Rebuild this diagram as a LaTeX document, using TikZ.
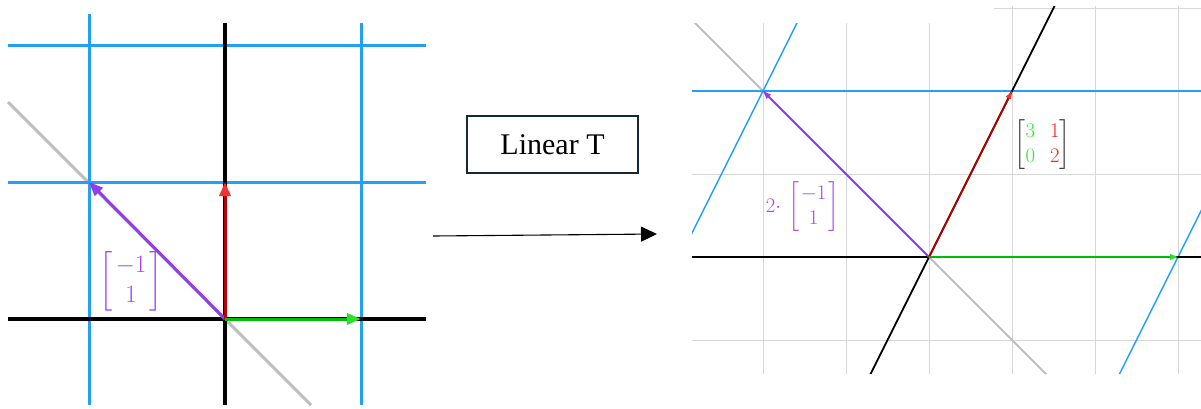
\documentclass[tikz,border=0pt]{standalone}
\usepackage{amsmath}
\usepackage{fontspec}
\newfontfamily\timesfont{Liberation Serif}
\usetikzlibrary{arrows.meta}
\definecolor{gblue}{RGB}{35,160,245}
\definecolor{ggray}{RGB}{190,190,190}
\definecolor{lgrid}{RGB}{215,215,215}
\definecolor{vpurple}{RGB}{145,60,238}
\definecolor{lpurple}{RGB}{160,70,255}
\definecolor{redshaft}{RGB}{185,0,0}
\definecolor{redtip}{RGB}{240,50,50}
\definecolor{greenshaft}{RGB}{0,190,0}
\definecolor{greentip}{RGB}{40,225,40}
\definecolor{boxnavy}{RGB}{20,40,55}
\definecolor{mgreen}{RGB}{40,235,40}
\definecolor{mred}{RGB}{250,30,30}
\definecolor{mgray}{RGB}{50,50,50}
\tikzset{
  bluel/.style={draw=gblue, line width=3pt},
  axisl/.style={draw=black, line width=3.4pt},
  diagl/.style={draw=ggray, line width=3pt},
  bigvec/.style={line width=3pt},
  rblue/.style={draw=gblue, line width=1.4pt},
  raxis/.style={draw=black, line width=1.8pt},
  rgrid/.style={draw=lgrid, line width=1pt},
  rdiag/.style={draw=ggray, line width=1.8pt},
  smallvec/.style={line width=1.8pt},
  tbox/.style={draw=boxnavy, line width=2pt, minimum width=171pt, minimum height=57pt, inner sep=0pt, font=\timesfont\fontsize{30}{36}\selectfont},
}
\begin{document}
\begin{tikzpicture}[x=1pt,y=-1pt]
\useasboundingbox (0,0) rectangle (1201,408);
% ---------- left panel ----------
\coordinate (O1) at (225,319);
\coordinate (P1) at (89,182);
\coordinate (R1) at (225,182);
\coordinate (G1) at (361,319);
\draw[diagl] (8,102) -- (311,405);
\draw[bluel] (8,45) -- (426,45);
\draw[bluel] (8,182) -- (426,182);
\draw[bluel] (89,14) -- (89,405);
\draw[bluel] (361,23) -- (361,405);
\draw[axisl] (8,319) -- (426,319);
\draw[axisl] (225,23) -- (225,405);
\draw[bigvec, draw=vpurple, -{Triangle[length=14pt,width=11pt,color=vpurple]}] (O1) -- (P1);
\draw[bigvec, draw=redshaft, -{Triangle[length=14pt,width=11pt,color=redtip]}] (O1) -- (R1);
\draw[bigvec, draw=greenshaft, -{Triangle[length=14pt,width=11pt,color=greentip]}] (O1) -- (G1);
\node[text=lpurple, font=\fontsize{24.88}{30}\selectfont, inner sep=0pt] (lab1) at (131,281) {$\begin{bmatrix}\mkern2mu-1\mkern2mu\\ \mkern2mu1\mkern2mu\end{bmatrix}$};
% ---------- middle ----------
\node[tbox] (T) at (552.5,144.5) {Linear T};
\coordinate (a0) at (433,236);
\coordinate (a1) at (657,234);
\draw[line width=1.1pt, -{Triangle[length=16pt,width=15pt]}] (a0) -- (a1);
% ---------- right panel ----------
\coordinate (O2) at (929,257);
\coordinate (P2) at (763,91);
\coordinate (R2) at (1012,91);
\coordinate (G2) at (1178,257);
\begin{scope}
\clip (692,23) -- (994,23) -- (994,6) -- (1201,6) -- (1201,374) -- (692,374) -- cycle;
\foreach \xx in {763,846,929,1012,1095,1178} {\draw[rgrid] (\xx,0) -- (\xx,380);}
\foreach \yy in {8.5,174,340} {\draw[rgrid] (680,\yy) -- (1210,\yy);}
\draw[rdiag] (929,257) ++(-300,-300) -- ++(600,600);
\draw[rblue] (680,91) -- (1210,91);
\draw[rblue] (763,91) ++(-150,300) -- ++(300,-600);
\draw[rblue] (1178,257) ++(-150,300) -- ++(300,-600);
\draw[raxis] (680,257) -- (1210,257);
\draw[raxis] (929,257) ++(-150,300) -- ++(300,-600);
\end{scope}
\draw[smallvec, draw=vpurple, -{Triangle[length=8pt,width=5.5pt,color=vpurple]}] (O2) -- (P2);
\draw[smallvec, draw=redshaft, -{Triangle[length=8pt,width=5.5pt,color=redtip]}] (O2) -- (R2);
\draw[smallvec, draw=greenshaft, -{Triangle[length=8pt,width=5.5pt,color=greentip]}] (O2) -- (G2);
\node[text=lpurple, font=\fontsize{20.74}{25}\selectfont, inner sep=0pt] (lab2) at (802.5,207) {$2{\cdot}\,\begin{bmatrix}\mkern1.5mu-1\mkern1.5mu\\ \mkern1.5mu1\mkern1.5mu\end{bmatrix}$};
\node[text=mgray, font=\fontsize{20.74}{25}\selectfont, inner sep=0pt] (lab3) at (1042.5,145) {\setlength\arraycolsep{7.5pt}$\begin{bmatrix}\color{mgreen}3 & \color{mred}1\\ \color{mgreen}0 & \color{mred}2\end{bmatrix}$};
\end{tikzpicture}
\end{document}
